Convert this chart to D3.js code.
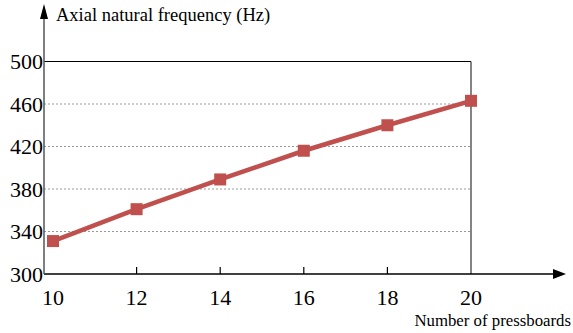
<!DOCTYPE html>
<html><head><meta charset="utf-8">
<script src="https://cdn.jsdelivr.net/npm/d3@7"></script>
<style>body{margin:0;background:#fff} text{font-family:'Liberation Serif','Times New Roman','DejaVu Serif',serif}</style>
</head><body>
<svg id="c" width="573" height="333"></svg>
<script>
const xValues = [10, 12, 14, 16, 18, 20];
const freq = [331, 361, 389, 416, 440, 463];
const yTicks = [300, 340, 380, 420, 460, 500];
const xTicks = [10, 12, 14, 16, 18, 20];
const yTitle = "Axial natural frequency (Hz)";
const xTitle = "Number of pressboards";

const svg = d3.select("#c");
const axisLeft = 44;
const x = d3.scaleLinear().domain([10, 20]).range([53, 471]);
const y = d3.scaleLinear().domain([300, 500]).range([274, 61.5]);
const color = "#c0504d";

// grid
svg.selectAll("line.grid").data(yTicks.filter(d => d > 300 && d < 500)).enter()
  .append("line").attr("x1", axisLeft).attr("x2", x(20))
  .attr("y1", d => y(d)).attr("y2", d => y(d))
  .attr("stroke", "#999").attr("stroke-width", 1).attr("stroke-dasharray", "2,2");

// frame top and right
svg.append("line").attr("x1", axisLeft).attr("x2", x(20)).attr("y1", y(500)).attr("y2", y(500))
  .attr("stroke", "#000").attr("stroke-width", 1.2);
svg.append("line").attr("x1", x(20)).attr("x2", x(20)).attr("y1", y(500)).attr("y2", y(300))
  .attr("stroke", "#333").attr("stroke-width", 1.2);

// axes
svg.append("line").attr("x1", axisLeft).attr("x2", 553).attr("y1", y(300)).attr("y2", y(300))
  .attr("stroke", "#000").attr("stroke-width", 1.5);
svg.append("path").attr("d", `M553,${y(300)-5} L566,${y(300)} L553,${y(300)+5} Z`).attr("fill", "#000");
svg.append("line").attr("x1", axisLeft).attr("x2", axisLeft).attr("y1", y(300)).attr("y2", 17)
  .attr("stroke", "#555").attr("stroke-width", 1.5);
svg.append("path").attr("d", `M${axisLeft-4},19 L${axisLeft},4 L${axisLeft+4},19 Z`).attr("fill", "#000");

// x ticks
svg.selectAll("line.xt").data(xTicks.filter(d => d > 10 && d < 20)).enter()
  .append("line").attr("x1", d => x(d)).attr("x2", d => x(d))
  .attr("y1", y(300)).attr("y2", y(300) - 7).attr("stroke", "#000").attr("stroke-width", 1.2);

// tick labels
svg.selectAll("text.xl").data(xTicks).enter().append("text")
  .attr("x", d => x(d)).attr("y", 305).attr("text-anchor", "middle")
  .attr("font-size", 22).text(d => d);
svg.selectAll("text.yl").data(yTicks).enter().append("text")
  .attr("x", axisLeft - 1).attr("y", d => y(d) + 7.5).attr("text-anchor", "end")
  .attr("font-size", 22).text(d => d);

// titles
svg.append("text").attr("x", 56).attr("y", 21).attr("font-size", 18.5).text(yTitle);
svg.append("text").attr("x", 571).attr("y", 326).attr("text-anchor", "end")
  .attr("font-size", 16.8).text(xTitle);

// line
const data = xValues.map((v, i) => ({x: v, y: freq[i]}));
svg.append("path").datum(data)
  .attr("d", d3.line().x(d => x(d.x)).y(d => y(d.y)))
  .attr("fill", "none").attr("stroke", color).attr("stroke-width", 4.5);
svg.selectAll("rect.m").data(data).enter().append("rect")
  .attr("x", d => x(d.x) - 6).attr("y", d => y(d.y) - 6)
  .attr("width", 12).attr("height", 12).attr("fill", color);
</script>
</body></html>
